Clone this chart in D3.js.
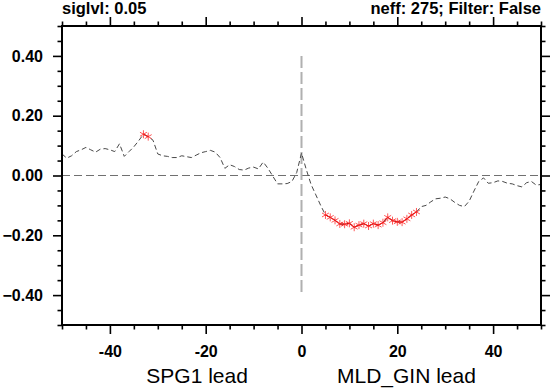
<!DOCTYPE html>
<html>
<head>
<meta charset="utf-8">
<script src="https://cdn.jsdelivr.net/npm/d3@7"></script>
<style>
  html, body { margin: 0; padding: 0; background: #fff; }
  svg { display: block; font-family: "Liberation Sans", Arial, Helvetica, sans-serif; }
</style>
</head>
<body>
<svg id="chart" width="553" height="390"></svg>
<script>
// ---- data ----
const lags = d3.range(-50, 51);
const corr = [
  0.072, 0.058, 0.066, 0.080, 0.086, 0.094, 0.086, 0.078, 0.088, 0.090,
  0.086, 0.080, 0.106, 0.064, 0.080, 0.096, 0.116, 0.138, 0.130, 0.118,
  0.072, 0.066, 0.064, 0.060, 0.060, 0.066, 0.063, 0.060, 0.068, 0.076,
  0.080, 0.084, 0.078, 0.060, 0.024, 0.036, 0.030, 0.020, 0.018, 0.025,
  0.028, 0.022, 0.045, 0.024, -0.002, -0.028, -0.028, -0.027, -0.020, 0.010,
  0.075,
  0.020, -0.030, -0.065, -0.100, -0.132, -0.140, -0.150, -0.162, -0.163, -0.160,
  -0.173, -0.166, -0.161, -0.169, -0.161, -0.166, -0.158, -0.140, -0.151, -0.155,
  -0.156, -0.145, -0.132, -0.122, -0.104, -0.100, -0.088, -0.078, -0.076, -0.072,
  -0.078, -0.090, -0.100, -0.104, -0.086, -0.052, -0.020, -0.008, -0.026, -0.024,
  -0.018, -0.020, -0.026, -0.028, -0.034, -0.038, -0.024, -0.020, -0.032, -0.030
];
const sigLags = [-33, -32, 5, 6, 7, 8, 9, 10, 11, 12, 13, 14, 15, 16, 17, 18, 19, 20, 21, 22, 23, 24];
const xMajorTicks = [-40, -20, 0, 20, 40];
const yMajorTicks = [-0.4, -0.2, 0.0, 0.2, 0.4];
const titleLeft = "siglvl: 0.05";
const titleRight = "neff: 275; Filter: False";
const xLabelLeft = "SPG1 lead";
const xLabelRight = "MLD_GIN lead";

// ---- layout ----
const svg = d3.select("#chart");
const L = 62, R = 541, T = 26, B = 325;
const x = d3.scaleLinear().domain([-50, 50]).range([L, R]);
const y = d3.scaleLinear().domain([-0.5, 0.5]).range([B, T]);

const pts = lags.map((l, i) => ({ lag: l, v: corr[i] }));

// zero line
svg.append("line")
  .attr("x1", x(-50)).attr("x2", x(50))
  .attr("y1", y(0)).attr("y2", y(0))
  .attr("stroke", "#707070").attr("stroke-width", 1.2)
  .attr("stroke-dasharray", "8,4");

// vertical line at lag 0
svg.append("line")
  .attr("x1", x(0)).attr("x2", x(0))
  .attr("y1", y(0.4)).attr("y2", y(-0.4))
  .attr("stroke", "#b0b0b0").attr("stroke-width", 2)
  .attr("stroke-dasharray", "12,4");

// main dashed line
const line = d3.line().x(d => x(d.lag)).y(d => y(d.v));
svg.append("path")
  .datum(pts)
  .attr("d", line)
  .attr("fill", "none")
  .attr("stroke", "#484848")
  .attr("stroke-width", 1)
  .attr("stroke-dasharray", "5,3");

// significant segments
const sigSet = new Set(sigLags);
const sigLine = d3.line()
  .defined(d => sigSet.has(d.lag))
  .x(d => x(d.lag)).y(d => y(d.v));
svg.append("path")
  .datum(pts)
  .attr("d", sigLine)
  .attr("fill", "none")
  .attr("stroke", "#c00000")
  .attr("stroke-width", 1);

// asterisk markers
const r = 4;
const star = d3.range(3).map(k => {
  const a = Math.PI / 2 + k * Math.PI / 3;
  return `M${-r * Math.cos(a)},${-r * Math.sin(a)}L${r * Math.cos(a)},${r * Math.sin(a)}`;
}).join("");
svg.append("g").selectAll("path")
  .data(pts.filter(d => sigSet.has(d.lag)))
  .join("path")
  .attr("transform", d => `translate(${x(d.lag)},${y(d.v)})`)
  .attr("d", star)
  .attr("fill", "none")
  .attr("stroke", "#ff2020")
  .attr("stroke-opacity", 0.75)
  .attr("stroke-width", 1);

// ---- axes ----
const xMinor = d3.range(-50, 51, 5).filter(v => !xMajorTicks.includes(v));
const yMinor = d3.range(-0.5, 0.5001, 0.05).map(v => +v.toFixed(2))
  .filter(v => !yMajorTicks.some(t => Math.abs(t - v) < 1e-6));

function styleAxis(g) {
  g.select(".domain").remove();
  g.selectAll(".tick line").attr("stroke", "#000").attr("stroke-width", 1.6);
}
const fmtY = d3.format(".2f");

// bottom
svg.append("g").attr("transform", `translate(0,${B})`)
  .call(d3.axisBottom(x).tickValues(xMajorTicks).tickSize(9).tickPadding(12).tickFormat(d => d))
  .call(styleAxis)
  .call(g => g.selectAll("text").attr("font-size", 16).attr("font-weight", "bold").attr("fill", "#000")
    .style("font-family", "'Liberation Sans', Arial, sans-serif"));
svg.append("g").attr("transform", `translate(0,${B})`)
  .call(d3.axisBottom(x).tickValues(xMinor).tickSize(4.5).tickFormat(""))
  .call(styleAxis);
// top
svg.append("g").attr("transform", `translate(0,${T})`)
  .call(d3.axisTop(x).tickValues(xMajorTicks).tickSize(9).tickFormat(""))
  .call(styleAxis);
svg.append("g").attr("transform", `translate(0,${T})`)
  .call(d3.axisTop(x).tickValues(xMinor).tickSize(4.5).tickFormat(""))
  .call(styleAxis);
// left
svg.append("g").attr("transform", `translate(${L},0)`)
  .call(d3.axisLeft(y).tickValues(yMajorTicks).tickSize(9).tickPadding(10).tickFormat(fmtY))
  .call(styleAxis)
  .call(g => g.selectAll("text").attr("font-size", 16).attr("font-weight", "bold").attr("fill", "#000")
    .style("font-family", "'Liberation Sans', Arial, sans-serif"));
svg.append("g").attr("transform", `translate(${L},0)`)
  .call(d3.axisLeft(y).tickValues(yMinor).tickSize(4.5).tickFormat(""))
  .call(styleAxis);
// right
svg.append("g").attr("transform", `translate(${R},0)`)
  .call(d3.axisRight(y).tickValues(yMajorTicks).tickSize(9).tickFormat(""))
  .call(styleAxis);
svg.append("g").attr("transform", `translate(${R},0)`)
  .call(d3.axisRight(y).tickValues(yMinor).tickSize(4.5).tickFormat(""))
  .call(styleAxis);

// frame
svg.append("rect")
  .attr("x", L).attr("y", T).attr("width", R - L).attr("height", B - T)
  .attr("fill", "none").attr("stroke", "#000").attr("stroke-width", 2);

// titles
svg.append("text").attr("x", L).attr("y", 14)
  .attr("font-size", 16.5).attr("font-weight", "bold").text(titleLeft);
svg.append("text").attr("x", R).attr("y", 14).attr("text-anchor", "end")
  .attr("font-size", 16.5).attr("font-weight", "bold").text(titleRight);

// x-axis labels
svg.append("text").attr("x", x(-21.8)).attr("y", 383).attr("text-anchor", "middle")
  .attr("font-size", 21).text(xLabelLeft);
svg.append("text").attr("x", x(21.9)).attr("y", 383).attr("text-anchor", "middle")
  .attr("font-size", 21).text(xLabelRight);
</script>
</body>
</html>
